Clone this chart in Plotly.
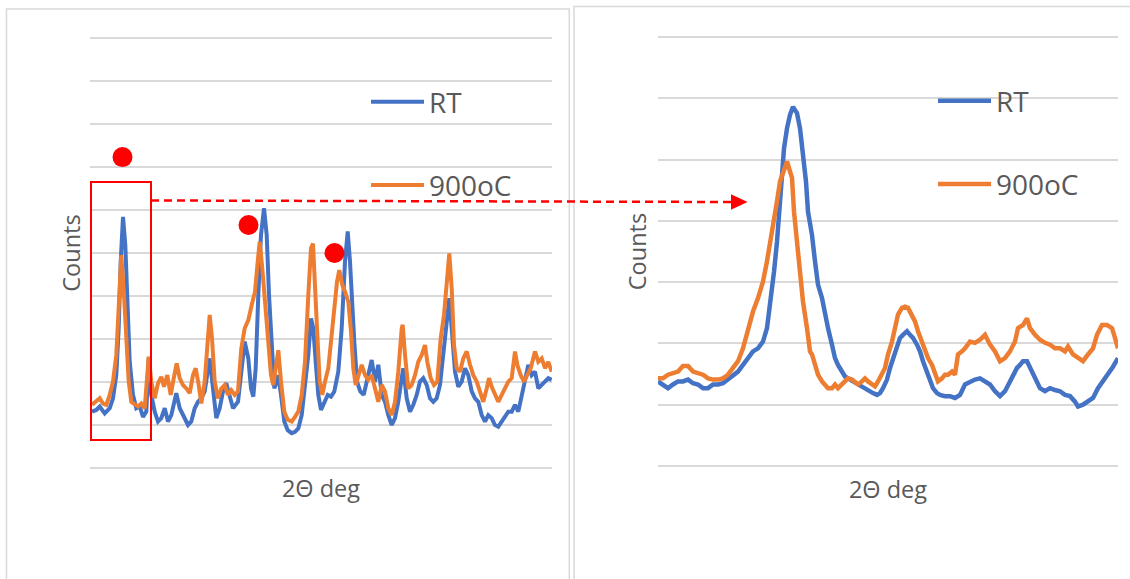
import plotly.graph_objects as go

# ---------------- data ----------------
# Left panel: full scan
theta_full_rt = [10.0, 10.43, 10.77, 11.27, 11.77, 12.1, 12.43, 12.67, 12.87, 13.1, 13.33, 13.53, 13.77, 14.1, 14.43, 14.77, 15.1, 15.43, 15.67, 15.93, 16.27, 16.6, 16.93, 17.27, 17.6, 17.93, 18.43, 18.77, 19.27, 19.6, 19.93, 20.27, 20.6, 20.93, 21.27, 21.77, 22.1, 22.43, 22.77, 23.1, 23.43, 23.77, 24.1, 24.6, 25.27,
                 25.63, 25.9, 26.13, 26.37, 26.63, 26.9, 27.2, 27.47, 27.7, 27.97, 28.23, 28.47, 28.63, 28.9, 29.23, 29.57, 29.97, 30.3, 30.63, 30.97, 31.3, 31.63, 31.9, 32.13, 32.37, 32.63, 32.9, 33.23, 33.57, 33.9, 34.23, 34.63, 34.97, 35.3, 35.57, 35.8, 35.97, 36.23, 36.5, 36.83, 37.17, 37.5, 37.97, 38.3, 38.63, 38.97, 39.3, 39.63, 39.97, 40.3, 40.63, 40.97,
                 41.13, 41.47, 41.8, 42.13, 42.47, 42.8, 43.13, 43.47, 43.8, 44.13, 44.47, 44.8, 45.13, 45.47, 45.73, 45.97, 46.3, 46.63, 46.97, 47.3, 47.63, 47.97, 48.3, 48.63, 48.97, 49.3, 49.63, 49.97, 50.3, 50.63, 50.97, 51.3, 51.63, 51.97, 52.3, 52.63, 52.97, 53.3, 53.63, 53.97, 54.3, 54.63, 54.97, 55.3, 55.63, 55.97]
counts_full_rt = [131, 135, 143, 127, 139, 162, 216, 325, 480, 584, 519, 364, 247, 170, 139, 143, 119, 131, 255, 170, 131, 108, 116, 139, 108, 123, 174, 139, 116, 100, 108, 139, 154, 162, 178, 255, 185, 116, 139, 178, 197, 170, 139, 154, 294,
                  255, 185, 166, 232, 402, 542, 604, 542, 402, 271, 185, 201, 216, 170, 108, 88, 81, 84, 92, 123, 185, 263, 348, 325, 247, 170, 135, 154, 170, 166, 178, 224, 325, 480, 550, 480, 387, 294, 201, 178, 170, 201, 251, 201, 240, 170, 154, 123, 100, 116, 154, 209,
                  232, 162, 131, 147, 170, 201, 209, 193, 162, 154, 162, 193, 263, 340, 395, 325, 224, 189, 201, 232, 216, 178, 162, 154, 123, 108, 123, 116, 100, 96, 108, 116, 131, 131, 147, 131, 170, 201, 240, 216, 224, 185, 193, 201, 209, 205]

theta_full_900 = [10.0, 10.43, 10.77, 11.1, 11.43, 11.77, 12.1, 12.43, 12.67, 12.93, 13.2, 13.43, 13.67, 13.93, 14.27, 14.6, 14.93, 15.27, 15.67, 15.93, 16.27, 16.6, 16.93, 17.2, 17.53, 17.87, 18.2, 18.47, 18.77, 19.1, 19.43, 19.77, 20.1, 20.37, 20.67, 20.93, 21.27, 21.53, 21.77, 22.0, 22.27, 22.6, 22.93, 23.27, 23.6, 23.93, 24.27, 24.6, 24.93, 25.27,
                  25.63, 25.97, 26.3, 26.57, 26.77, 27.03, 27.3, 27.57, 27.9, 28.13, 28.4, 28.63, 28.9, 29.23, 29.57, 29.97, 30.3, 30.63, 30.97, 31.3, 31.63, 31.9, 32.1, 32.3, 32.5, 32.77, 33.03, 33.3, 33.63, 33.9, 34.17, 34.5, 34.73, 35.03, 35.3, 35.63, 35.9, 36.13, 36.37, 36.63, 36.97, 37.3, 37.63, 37.97, 38.3, 38.63, 38.97, 39.3, 39.63, 39.97, 40.3, 40.63, 40.97,
                  41.07, 41.3, 41.63, 41.97, 42.3, 42.63, 42.97, 43.3, 43.53, 43.87, 44.2, 44.53, 44.87, 45.2, 45.47, 45.73, 45.97, 46.2, 46.47, 46.8, 47.13, 47.47, 47.8, 48.13, 48.47, 48.8, 49.13, 49.47, 49.7, 49.97, 50.3, 50.63, 50.97, 51.3, 51.63, 51.97, 52.3, 52.53, 52.87, 53.2, 53.53, 53.87, 54.3, 54.63, 54.97, 55.3, 55.63, 55.97]
counts_full_900 = [147, 154, 162, 150, 147, 170, 201, 263, 356, 495, 402, 286, 201, 154, 147, 143, 150, 139, 259, 201, 162, 197, 212, 189, 216, 170, 212, 243, 209, 193, 185, 174, 216, 232, 193, 150, 201, 294, 356, 302, 201, 162, 185, 193, 170, 181, 170, 178, 278, 325,
                   344, 379, 410, 480, 526, 464, 379, 294, 216, 193, 247, 274, 201, 131, 112, 108, 119, 131, 170, 247, 402, 511, 522, 441, 325, 201, 170, 201, 232, 294, 364, 433, 460, 426, 410, 387, 317, 232, 193, 216, 240, 216, 205, 216, 185, 154, 193, 178, 139, 123, 154, 224, 325,
                   333, 263, 185, 193, 216, 247, 263, 286, 247, 209, 193, 201, 302, 356, 426, 499, 418, 286, 232, 224, 255, 271, 240, 216, 201, 178, 154, 185, 209, 189, 170, 154, 170, 185, 201, 209, 271, 240, 216, 201, 216, 232, 271, 247, 255, 232, 247, 224]

# Peaks marked with red dots on the full scan
marked_theta = [13.05, 25.65, 34.25]
marked_counts = [723, 565, 500]

# Window of the full scan that is magnified on the right
window_theta = [9.9, 15.9]
window_counts = [65, 665]

# Right panel: magnified first peak
theta_zoom_rt = [10.98, 11.03, 11.08, 11.13, 11.18, 11.23, 11.28, 11.33, 11.38, 11.43, 11.48, 11.53, 11.58, 11.63, 11.68, 11.73, 11.78, 11.83, 11.88, 11.93, 11.98, 12.03, 12.07, 12.09, 12.12, 12.14, 12.17, 12.19, 12.22, 12.24, 12.27, 12.30, 12.33, 12.37, 12.40, 12.43, 12.46, 12.48, 12.52, 12.55, 12.58, 12.62, 12.65, 12.68, 12.72, 12.75, 12.78, 12.82, 12.85, 12.88, 12.93, 12.98, 13.03, 13.08, 13.13, 13.17, 13.20, 13.23, 13.27, 13.30, 13.33, 13.37, 13.40, 13.43, 13.47, 13.50, 13.53, 13.57, 13.60, 13.63, 13.67, 13.70, 13.73, 13.77, 13.80, 13.85, 13.90, 13.95, 14.00, 14.05, 14.10, 14.15, 14.20, 14.25, 14.30, 14.35, 14.40, 14.45, 14.50, 14.53, 14.57, 14.60, 14.63, 14.67, 14.70, 14.73, 14.77, 14.80, 14.85, 14.90, 14.95, 15.00, 15.05, 15.10, 15.15, 15.18, 15.23, 15.28, 15.33, 15.38, 15.43, 15.48, 15.53, 15.58]
counts_zoom_rt = [138, 133, 127, 133, 138, 138, 141, 135, 133, 127, 127, 133, 133, 135, 141, 146, 154, 165, 176, 187, 192, 203, 225, 252, 279, 317, 366, 415, 470, 518, 551, 573, 586, 576, 551, 508, 464, 415, 377, 334, 296, 274, 247, 225, 198, 176, 165, 154, 146, 143, 138, 133, 127, 122, 119, 116, 119, 127, 141, 160, 176, 195, 209, 214, 220, 214, 209, 198, 187, 171, 154, 138, 127, 119, 116, 114, 114, 111, 116, 133, 138, 141, 143, 138, 133, 122, 114, 122, 138, 149, 160, 165, 171, 171, 160, 149, 138, 127, 122, 127, 124, 122, 116, 114, 105, 97, 100, 105, 111, 127, 138, 149, 162, 176]

theta_zoom_900 = [10.98, 11.03, 11.08, 11.13, 11.18, 11.23, 11.28, 11.33, 11.38, 11.43, 11.48, 11.53, 11.58, 11.63, 11.68, 11.73, 11.78, 11.83, 11.88, 11.93, 11.98, 12.03, 12.07, 12.10, 12.13, 12.17, 12.20, 12.23, 12.27, 12.29, 12.32, 12.34, 12.37, 12.40, 12.43, 12.47, 12.50, 12.52, 12.55, 12.58, 12.62, 12.65, 12.68, 12.72, 12.75, 12.78, 12.82, 12.85, 12.88, 12.92, 12.95, 12.98, 13.02, 13.05, 13.08, 13.12, 13.15, 13.18, 13.22, 13.25, 13.28, 13.32, 13.35, 13.38, 13.42, 13.45, 13.48, 13.52, 13.55, 13.58, 13.62, 13.65, 13.68, 13.72, 13.75, 13.78, 13.82, 13.85, 13.88, 13.92, 13.95, 13.98, 14.02, 14.05, 14.10, 14.15, 14.20, 14.25, 14.30, 14.35, 14.40, 14.45, 14.50, 14.55, 14.58, 14.63, 14.67, 14.70, 14.75, 14.80, 14.85, 14.90, 14.95, 15.00, 15.05, 15.08, 15.13, 15.18, 15.23, 15.28, 15.33, 15.37, 15.42, 15.47, 15.52, 15.55, 15.58]
counts_zoom_900 = [143, 143, 149, 152, 154, 163, 163, 154, 152, 149, 143, 141, 141, 143, 149, 160, 171, 192, 225, 252, 274, 301, 334, 361, 393, 432, 464, 480, 497, 486, 470, 415, 366, 317, 268, 225, 187, 182, 165, 149, 138, 133, 127, 127, 133, 127, 133, 138, 143, 141, 138, 133, 138, 143, 138, 133, 130, 138, 149, 160, 182, 203, 225, 247, 258, 260, 258, 247, 236, 220, 203, 192, 176, 165, 149, 138, 143, 149, 149, 154, 149, 182, 187, 192, 203, 201, 206, 214, 198, 187, 171, 176, 187, 203, 225, 230, 241, 225, 214, 206, 201, 198, 192, 192, 187, 195, 182, 176, 171, 182, 192, 214, 230, 230, 225, 209, 192]

series_names = ["RT", "900oC"]

# ---------------- styling ----------------
W, H = 1130, 579
BLUE, ORANGE = "#4472C4", "#ED7D31"
GRID = "#D9D9D9"
TXT = "#595959"
FONT = "Open Sans"
RED = "#FF0000"


def fx(px):
    return px / W


def fy(py):
    return 1 - py / H


fig = go.Figure()

for x, y, name, col, grp in [(theta_full_rt, counts_full_rt, series_names[0], BLUE, "rt"),
                             (theta_full_900, counts_full_900, series_names[1], ORANGE, "hot")]:
    fig.add_trace(go.Scatter(x=x, y=y, mode="lines", name=name, legendgroup=grp + "L",
                             line=dict(color=col, width=4), xaxis="x", yaxis="y", legend="legend"))

fig.add_trace(go.Scatter(x=marked_theta, y=marked_counts, mode="markers", showlegend=False,
                         marker=dict(color=RED, size=20), hoverinfo="skip", xaxis="x", yaxis="y"))

for x, y, name, col, grp in [(theta_zoom_rt, counts_zoom_rt, series_names[0], BLUE, "rt"),
                             (theta_zoom_900, counts_zoom_900, series_names[1], ORANGE, "hot")]:
    fig.add_trace(go.Scatter(x=x, y=y, mode="lines", name=name, legendgroup=grp + "R",
                             line=dict(color=col, width=4.5), xaxis="x2", yaxis="y2", legend="legend2"))

axis_common = dict(showticklabels=False, ticks="", showline=False, zeroline=False,
                   fixedrange=True)
title_font = dict(family=FONT, size=23.5, color=TXT)

fig.update_layout(
    width=W, height=H,
    margin=dict(l=0, r=0, t=0, b=0),
    paper_bgcolor="white", plot_bgcolor="white",
    font=dict(family=FONT, color=TXT),
    xaxis=dict(domain=[fx(90), fx(552)], range=[9.8, 56.0], showgrid=False,
               title=dict(text="2\u0398 deg", font=title_font, standoff=3), **axis_common),
    yaxis=dict(domain=[fy(476.6), fy(29.4)], range=[-20, 1020], dtick=100, tick0=0,
               showgrid=True, gridcolor=GRID, gridwidth=1.8, anchor="x",
               title=dict(text="Counts", font=title_font, standoff=1), **axis_common),
    xaxis2=dict(domain=[fx(658), fx(1118)], range=[10.98, 15.58], showgrid=False, anchor="y2",
                title=dict(text="2\u0398 deg", font=title_font, standoff=3), **axis_common),
    yaxis2=dict(domain=[fy(478.26), fy(24.74)], range=[-20, 720], dtick=100, tick0=0,
                showgrid=True, gridcolor=GRID, gridwidth=1.8, anchor="x2",
                title=dict(text="Counts", font=title_font, standoff=3), **axis_common),
    legend=dict(x=fx(366), y=fy(77), xanchor="left", yanchor="top", itemwidth=53,
                font=dict(family=FONT, size=28, color=TXT), bgcolor="rgba(0,0,0,0)",
                tracegroupgap=44),
    legend2=dict(x=fx(933), y=fy(76), xanchor="left", yanchor="top", itemwidth=53,
                 font=dict(family=FONT, size=28, color=TXT), bgcolor="rgba(0,0,0,0)",
                 tracegroupgap=44),
)

shapes = [
    # chart borders
    dict(type="rect", xref="paper", yref="paper", x0=fx(6.5), x1=fx(569.3), y0=-0.05, y1=fy(9),
         line=dict(color=GRID, width=1.5), layer="below"),
    dict(type="rect", xref="paper", yref="paper", x0=fx(574), x1=1.05, y0=-0.05, y1=fy(6.5),
         line=dict(color=GRID, width=1.5), layer="below"),
    # zoom window
    dict(type="rect", xref="x", yref="y", x0=window_theta[0], x1=window_theta[1],
         y0=window_counts[0], y1=window_counts[1], line=dict(color=RED, width=2)),
    # dashed connector
    dict(type="line", xref="paper", yref="paper", x0=fx(151), x1=fx(732), y0=fy(200.5), y1=fy(202),
         line=dict(color=RED, width=2.5, dash="8px,5px")),
    # arrow head
    dict(type="path", xref="paper", yref="paper",
         path=f"M{fx(731):.5f},{fy(194.3):.5f} L{fx(747.5):.5f},{fy(202):.5f} L{fx(731):.5f},{fy(209.7):.5f} Z",
         fillcolor=RED, line=dict(color=RED, width=0)),
]
fig.update_layout(shapes=shapes)

fig.write_html("out.html", config={"displayModeBar": False},
               post_script="document.body.style.margin='0px';document.body.style.overflow='hidden';")
